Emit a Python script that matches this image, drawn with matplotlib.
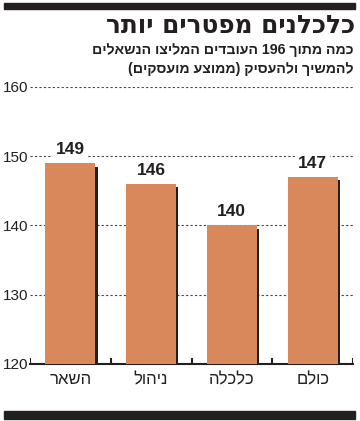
import re
import matplotlib
matplotlib.use("Agg")
import matplotlib.pyplot as plt
from matplotlib.patches import Rectangle

# data (left to right as printed)
categories = ["השאר", "ניהול", "כלכלה", "כולם"]
values = [149, 146, 140, 147]
yticks = [120, 130, 140, 150, 160]

title = "כלכלנים מפטרים יותר"
subtitle = ["כמה מתוך 196 העובדים המליצו הנשאלים",
            "להמשיך ולהעסיק (ממוצע מועסקים)"]

bar_color = "#d9885c"


def rtl(s):
    # matplotlib has no bidi: reverse to visual order, keep numbers, mirror parens
    r = s[::-1]
    r = re.sub(r"\d+", lambda m: m.group(0)[::-1], r)
    return r.translate(str.maketrans("()", ")("))


plt.rcParams['font.family'] = ['Liberation Sans', 'DejaVu Sans']

fig = plt.figure(figsize=(3.6, 4.21), dpi=100)
W, H = 360, 421

# top and bottom black rules
fig.patches.append(Rectangle((4 / W, 1 - 9 / H), 351 / W, 6 / H,
                             transform=fig.transFigure, color="#231f20"))
fig.patches.append(Rectangle((4 / W, 1 - 419 / H), 351 / W, 8 / H,
                             transform=fig.transFigure, color="#231f20"))

fig.text(355 / W, 1 - 26 / H, rtl(title), ha="right", va="center",
         fontsize=17.8, fontweight="bold", family=['DejaVu Sans'], color="#231f20")
fig.text(353 / W, 1 - 50 / H, rtl(subtitle[0]), ha="right", va="center",
         fontsize=10.2, fontweight="bold", color="#231f20")
fig.text(353 / W, 1 - 69 / H, rtl(subtitle[1]), ha="right", va="center",
         fontsize=10.2, fontweight="bold", color="#231f20")

ax = fig.add_axes([30 / W, 1 - 364 / H, 323 / W, 277 / H])
x = list(range(len(categories)))
bw = 0.62

ax.set_xlim(-0.5, len(categories) - 0.5)
ax.set_ylim(120, 160)
ax.set_yticks(yticks)
ax.set_yticklabels([str(t) for t in yticks], fontsize=11, color="#231f20")
ax.tick_params(axis="y", length=0, pad=1)
ax.set_xticks(x)
ax.set_xticklabels([rtl(c) for c in categories], fontsize=12, color="#231f20")
ax.tick_params(axis="x", length=0, pad=6)
for s in ["top", "right", "left"]:
    ax.spines[s].set_visible(False)
ax.spines["bottom"].set_linewidth(1.5)
ax.spines["bottom"].set_color("#231f20")

ax.grid(axis="y", linestyle=(0, (2, 2)), color="#444444", linewidth=0.8)
ax.set_axisbelow(True)

# shadow at the right edge of each bar
ax.bar([i + bw / 2 + 0.014 for i in x], [v - 120 - 0.5 for v in values],
       width=0.03, bottom=120, color="#231f20", zorder=2)
ax.bar(x, [v - 120 for v in values], width=bw, bottom=120,
       color=bar_color, zorder=3)

for i, v in zip(x, values):
    ax.text(i, v + 2, str(v), ha="center", va="center", fontsize=12.5,
            fontweight="bold", color="#231f20", zorder=4,
            bbox=dict(facecolor="white", edgecolor="none", pad=2))

# small ticks at category boundaries
ax.vlines([i - 0.5 for i in range(len(categories) + 1)], 120, 120.8,
          color="#231f20", linewidth=1.5, zorder=4)

fig.savefig("out.png", dpi=100)
